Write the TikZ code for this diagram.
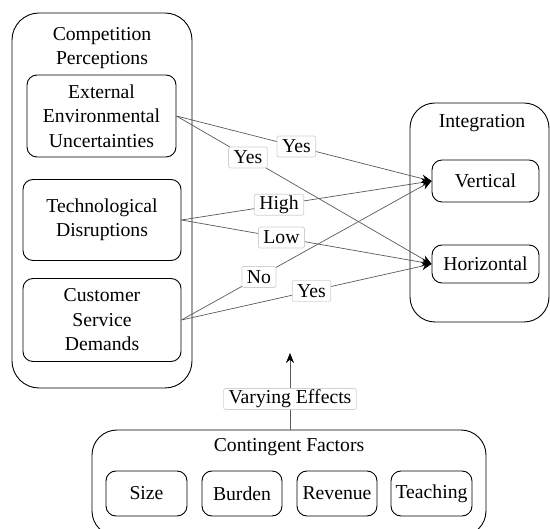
\documentclass[tikz,border=0pt]{standalone}
\usepackage{fontspec}
\setmainfont{Liberation Serif}
\newfontfamily\tnrfont{Liberation Serif}
\usetikzlibrary{arrows.meta}
\begin{document}
\begin{tikzpicture}[x=1pt,y=-1pt,
  txt/.style={font=\tnrfont\fontsize{19.7}{24.5}\selectfont, align=center, inner sep=0pt},
  cluster/.style={draw=black, line width=0.9pt, rounded corners=27pt, inner sep=0pt},
  box/.style={draw=black, line width=0.9pt, rounded corners=10pt, txt},
  conn/.style={draw=black!65, line width=0.7pt, -{Stealth[length=10pt,width=8pt,black]}},
  lbl/.style={draw=black!18, fill=white, rounded corners=2pt, txt, inner xsep=5pt, minimum height=21pt, text=black}
]
\useasboundingbox (0,0) rectangle (550,529);
% clusters
\node (cp) [cluster, minimum width=180pt, minimum height=375pt] at (102,200.5) {};
\node (cpt) [txt] at (102,48) {Competition\\Perceptions};
\node (ig) [cluster, minimum width=139pt, minimum height=219pt, rounded corners=25pt] at (479.5,212.5) {};
\node (igt) [txt] at (482,123) {Integration};
\node (cf) [cluster, minimum width=394pt, minimum height=106pt, rounded corners=25pt] at (289,483) {};
\node (cft) [txt] at (289,447) {Contingent Factors};
% boxes
\node (ext) [box, minimum width=149pt, minimum height=82pt] at (101.5,116) {External\\Environmental\\Uncertainties};
\node (tech) [box, minimum width=158pt, minimum height=81pt] at (102,220) {Technological\\Disruptions};
\node (cust) [box, minimum width=158pt, minimum height=83pt] at (102,320) {Customer\\Service\\Demands};
\node (vert) [box, minimum width=107pt, minimum height=42pt] at (485.5,181) {Vertical};
\node (horiz) [box, minimum width=107pt, minimum height=38pt] at (485.5,264) {Horizontal};
\node (size) [box, minimum width=81pt, minimum height=45pt] at (146.5,493.5) {Size};
\node (burden) [box, minimum width=80pt, minimum height=45pt] at (242,493.5) {Burden};
\node (revenue) [box, minimum width=80pt, minimum height=45pt] at (337,493.5) {Revenue};
\node (teaching) [box, minimum width=81pt, minimum height=45pt] at (431.5,493.5) {Teaching};
% connectors
\draw[conn] (ext.east) -- node[lbl, pos=0.47] (l1) {Yes} (vert.west);
\draw[conn] (ext.east) -- node[lbl, pos=0.28] (l2) {Yes} (horiz.west);
\draw[conn] (tech.east) -- node[lbl, pos=0.39] (l3) {High} (vert.west);
\draw[conn] (tech.east) -- node[lbl, pos=0.40] (l4) {Low} (horiz.west);
\draw[conn] (cust.east) -- node[lbl, pos=0.31] (l5) {No} (vert.west);
\draw[conn] (cust.east) -- node[lbl, pos=0.52] (l6) {Yes} (horiz.west);
\coordinate (ve) at (290,353);
\draw[conn] (cf.north -| ve) -- node[lbl, pos=0.4] (l7) {Varying Effects} (ve);
\end{tikzpicture}
\end{document}
